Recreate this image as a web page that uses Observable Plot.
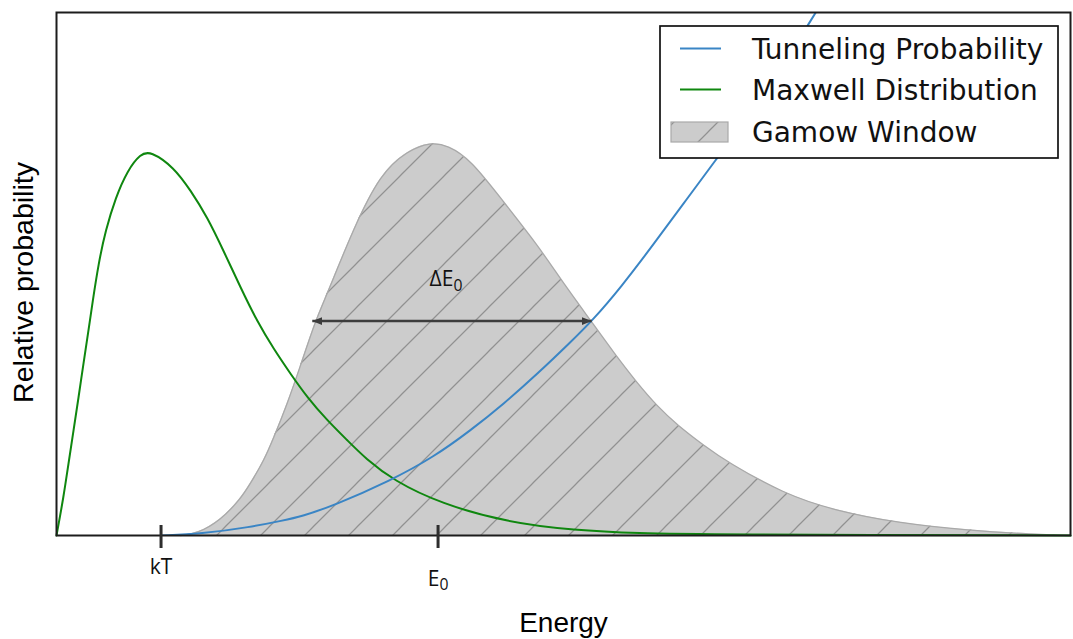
<!DOCTYPE html>
<html>
<head>
<meta charset="utf-8">
<script src="https://cdn.jsdelivr.net/npm/d3@7"></script>
<script src="https://cdn.jsdelivr.net/npm/@observablehq/plot@0.6"></script>
<style>
  body { margin: 0; background: #ffffff; }
</style>
</head>
<body>
<div id="chart"></div>
<script>
// Energy is measured in units of kT; probabilities are relative (1 = top of the frame).
const energyMax = 9.7;

// Maxwell distribution
const maxwellE = [0, 0.067, 0.115, 0.163, 0.211, 0.258, 0.306, 0.344, 0.402, 0.469, 0.565, 0.679, 0.804, 0.900,
  1.123, 1.282, 1.442, 1.601, 1.761, 1.920, 2.080, 2.239, 2.399, 2.590, 2.782, 2.957, 3.225, 3.675,
  4.316, 4.947, 5.589, 6.163, 9.7];
const maxwellP = [0, 0.073, 0.138, 0.201, 0.264, 0.329, 0.392, 0.445, 0.520, 0.583, 0.646, 0.698, 0.730, 0.735,
  0.704, 0.660, 0.609, 0.543, 0.474, 0.409, 0.356, 0.309, 0.264, 0.220, 0.182, 0.147, 0.105, 0.061,
  0.025, 0.010, 0.004, 0.002, 0];

// Tunneling probability
const tunnelE = [1.005, 1.378, 1.856, 2.172, 2.335, 2.651, 3.196, 3.608, 3.962, 4.280, 4.600, 4.919,
  5.126, 5.397, 5.716, 6.003, 6.258, 6.804, 7.263];
const tunnelP = [0, 0.003, 0.016, 0.029, 0.036, 0.057, 0.105, 0.150, 0.201, 0.252, 0.309, 0.370,
  0.411, 0.474, 0.558, 0.636, 0.705, 0.852, 1.000];

// Gamow window (product of the two)
const gamowE = [1.187, 1.349, 1.569, 1.761, 1.856, 1.984, 2.080, 2.208, 2.335, 2.478, 2.590, 2.845, 3.100,
  3.359, 3.579, 3.742, 3.962, 4.280, 4.600, 4.823, 5.110, 5.333, 5.557, 5.748, 5.940, 6.194, 6.421,
  6.957, 7.435, 8.077, 8.718, 9.349, 9.7];
const gamowP = [0, 0.004, 0.029, 0.070, 0.100, 0.143, 0.188, 0.252, 0.325, 0.411, 0.462, 0.589, 0.692,
  0.736, 0.752, 0.746, 0.719, 0.637, 0.556, 0.490, 0.411, 0.349, 0.291, 0.247, 0.211, 0.172, 0.140,
  0.080, 0.048, 0.023, 0.010, 0.002, 0];

// Marked energies on the axis
const tickValues = [1.0, 3.65];
const tickLabels = ["kT", "E_0"];

// Width of the Gamow window
const windowFrom = 2.447;
const windowTo = 5.12;
const windowLevel = 0.41;
const windowLabel = "ΔE_0";

const seriesNames = ["Tunneling Probability", "Maxwell Distribution", "Gamow Window"];
const xTitle = "Energy";
const yTitle = "Relative probability";

const blue = "#3a85c5";
const green = "#0f870f";

const maxwell = maxwellE.map((E, i) => ({E, p: maxwellP[i]}));
const tunnel = tunnelE.map((E, i) => ({E, p: tunnelP[i]}));
const gamow = gamowE.map((E, i) => ({E, p: gamowP[i]}));
const widthSpan = [{x1: windowFrom, x2: windowTo, y: windowLevel}];

const labelFont = "Open Sans, Noto Sans, sans-serif";
const titleFont = "Liberation Sans, Arial, sans-serif";
const smooth = "basis";

const svg = Plot.plot({
  width: 1073,
  height: 639,
  marginLeft: 56,
  marginRight: 3,
  marginTop: 12,
  marginBottom: 104,
  x: {domain: [0, energyMax], axis: null},
  y: {domain: [0, 1], axis: null},
  style: {background: "#ffffff"},
  marks: [
    Plot.areaY(gamow, {x: "E", y: "p", fill: "#cccccc", curve: smooth}),
    Plot.areaY(gamow, {x: "E", y: "p", fill: "url(#gamow-hatch)", curve: smooth}),
    Plot.line(gamow, {x: "E", y: "p", stroke: "#a9a9a9", strokeWidth: 1.3, curve: smooth}),
    Plot.line(maxwell, {x: "E", y: "p", stroke: green, strokeWidth: 2, curve: smooth}),
    Plot.line(tunnel, {x: "E", y: "p", stroke: blue, strokeWidth: 2, curve: smooth, clip: true}),
    Plot.link(widthSpan, {x1: "x1", x2: "x2", y1: "y", y2: "y", stroke: "#3d3d3d", strokeWidth: 2.6}),
    Plot.text(widthSpan, {x: d => (d.x1 + d.x2) / 2, y: "y", text: () => windowLabel, dx: -6, dy: -35,
      lineAnchor: "bottom", textAnchor: "middle", fontSize: 21, fontFamily: labelFont, fill: "#111"}),
    Plot.frame({stroke: "#1c1c1c", strokeWidth: 2}),
    Plot.ruleX(tickValues, {x: d => d, y1: 0, y2: 0, insetTop: -10, insetBottom: -13, stroke: "#2e2e2e", strokeWidth: 3}),
    Plot.text([0], {x: () => tickValues[0], y: 0, text: () => tickLabels[0], dy: 38, lineAnchor: "bottom",
      textAnchor: "middle", fontSize: 21, fontFamily: labelFont, fill: "#111"}),
    Plot.text([1], {x: () => tickValues[1], y: 0, text: () => tickLabels[1], dy: 50, lineAnchor: "bottom",
      textAnchor: "middle", fontSize: 21, fontFamily: labelFont, fill: "#111"}),
    Plot.text([xTitle], {frameAnchor: "bottom", text: d => d, dy: 96, lineAnchor: "bottom", textAnchor: "middle",
      fontSize: 28, fontFamily: titleFont, fill: "#000"}),
    Plot.text([yTitle], {frameAnchor: "left", text: d => d, rotate: -90, dx: -23.5, dy: 8.5, lineAnchor: "bottom",
      textAnchor: "middle", fontSize: 28.5, fontFamily: titleFont, fill: "#000"})
  ]
});

const root = d3.select(svg);
const defs = root.insert("defs", ":first-child");

// diagonal "/" hatching for the Gamow window
const hatch = defs.append("pattern")
  .attr("id", "gamow-hatch")
  .attr("patternUnits", "userSpaceOnUse")
  .attr("width", 44)
  .attr("height", 44)
  .attr("patternTransform", "translate(4,0)");
hatch.append("path")
  .attr("d", "M-4,4L4,-4M0,44L44,0M40,48L48,40")
  .attr("stroke", "#919191")
  .attr("stroke-width", 1.25)
  .attr("fill", "none");

// filled arrowheads for the window width
const head = defs.append("marker")
  .attr("id", "width-head")
  .attr("viewBox", "0 0 10 8")
  .attr("refX", 10)
  .attr("refY", 4)
  .attr("markerUnits", "userSpaceOnUse")
  .attr("markerWidth", 10)
  .attr("markerHeight", 8)
  .attr("orient", "auto-start-reverse");
head.append("path").attr("d", "M0,0L10,4L0,8Z").attr("fill", "#3d3d3d");
root.selectAll('g[aria-label="link"] path, g[aria-label="link"] line')
  .attr("marker-start", "url(#width-head)")
  .attr("marker-end", "url(#width-head)");

// subscripts written as X_0
root.selectAll("text").each(function () {
  const t = this.textContent;
  if (!t.includes("_")) return;
  const [base, sub] = t.split("_");
  const sel = d3.select(this);
  sel.text("");
  sel.append("tspan").text(base);
  sel.append("tspan").attr("dy", "0.3em").attr("font-size", "0.75em").text(sub);
});

// legend
const legend = root.append("g").attr("aria-label", "legend").attr("text-anchor", "start");
legend.append("rect")
  .attr("x", 660).attr("y", 26).attr("width", 398).attr("height", 132)
  .attr("fill", "#ffffff").attr("stroke", "#111").attr("stroke-width", 1.7);
const rows = [
  {name: seriesNames[0], kind: "line", color: blue, cy: 48.5},
  {name: seriesNames[1], kind: "line", color: green, cy: 89.5},
  {name: seriesNames[2], kind: "patch", cy: 132}
];
rows.forEach(r => {
  if (r.kind === "line") {
    legend.append("line")
      .attr("x1", 680).attr("x2", 721).attr("y1", r.cy).attr("y2", r.cy)
      .attr("stroke", r.color).attr("stroke-width", 2);
  } else {
    legend.append("rect")
      .attr("x", 671).attr("y", r.cy - 10).attr("width", 57).attr("height", 20)
      .attr("fill", "#cccccc");
    legend.append("rect")
      .attr("x", 671).attr("y", r.cy - 10).attr("width", 57).attr("height", 20)
      .attr("fill", "url(#gamow-hatch)").attr("stroke", "#a9a9a9").attr("stroke-width", 1.2);
  }
  legend.append("text")
    .attr("x", 752).attr("y", r.cy + 10)
    .attr("text-anchor", "start")
    .attr("font-family", "DejaVu Sans, sans-serif")
    .attr("font-size", 28)
    .attr("fill", "#111")
    .text(r.name);
});

document.getElementById("chart").appendChild(svg);
</script>
</body>
</html>
